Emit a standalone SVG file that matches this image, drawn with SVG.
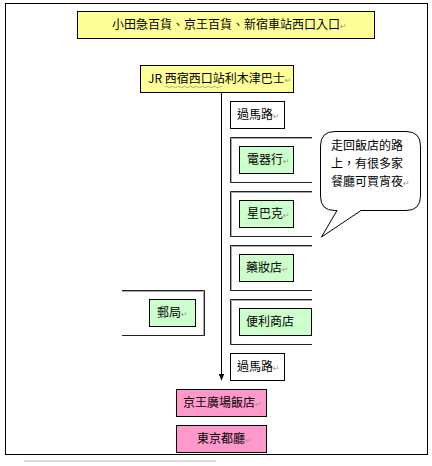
<svg xmlns="http://www.w3.org/2000/svg" width="432" height="466" viewBox="0 0 432 466">
<defs>
<style>
text{font-family:"Noto Sans CJK TC","Noto Sans CJK SC",sans-serif;font-size:12px;fill:#000}
.pm{font-family:"DejaVu Sans",sans-serif;font-size:8px;fill:#9a9a7a}
.y{fill:#ffff99;stroke:#000;stroke-width:1}
.w{fill:#fff;stroke:#000;stroke-width:1}
.g{fill:#ccffcc;stroke:#000;stroke-width:1}
.p{fill:#ff99cc;stroke:#000;stroke-width:1}
.br{fill:none;stroke:#222;stroke-width:1}
.sh{fill:none;stroke:#aaa;stroke-width:1}
</style>
<marker id="ah" viewBox="0 0 10 10" refX="9" refY="5" markerWidth="7" markerHeight="7" orient="auto"><path d="M0,1 L10,5 L0,9 z" fill="#000"/></marker>
</defs>
<rect x="0" y="0" width="432" height="466" fill="#fff"/>
<rect x="5.5" y="3.5" width="422" height="451" fill="none" stroke="#000" stroke-width="1"/>
<g id="connectors">
<line x1="221.5" y1="92" x2="221.5" y2="380" stroke="#000" stroke-width="1" marker-end="url(#ah)"/>
</g>
<g id="top"><rect class="y" x="77.5" y="11.5" width="297" height="27"/><text x="112" y="29">小田急百貨、京王百貨、新宿車站西口入口<tspan class="pm">↵</tspan></text></g>
<g id="jr"><rect class="y" x="140.5" y="65.5" width="153" height="27"/><text x="148" y="83">JR 西宿西口站利木津巴士<tspan class="pm">↵</tspan></text>
<path d="M165,87 q1.5,-1.5 3,0 t3,0 t3,0 t3,0 t3,0 t3,0 t3,0 t3,0 t3,0 t3,0 t3,0 t3,0 t3,0 t3,0 t3,0 t3,0 t3,0 t3,0 t3,0" fill="none" stroke="#6a6" stroke-width="0.8"/></g>
<g id="cross1"><rect class="w" x="230.5" y="101.5" width="54" height="27"/><text x="237" y="119">過馬路<tspan class="pm">↵</tspan></text></g>
<g id="shop1"><path class="sh" d="M312,138.5 H231.5 V182"/><path class="br" d="M312,137.5 H230.5 V182.5 H312"/><rect class="g" x="239.5" y="146.5" width="54" height="27"/><text x="247" y="164">電器行<tspan class="pm">↵</tspan></text></g>
<g id="shop2"><path class="sh" d="M312,192.5 H231.5 V236"/><path class="br" d="M312,191.5 H230.5 V236.5 H312"/><rect class="g" x="239.5" y="200.5" width="54" height="27"/><text x="247" y="218">星巴克<tspan class="pm">↵</tspan></text></g>
<g id="shop3"><path class="sh" d="M312,246.5 H231.5 V290"/><path class="br" d="M312,245.5 H230.5 V290.5 H312"/><rect class="g" x="239.5" y="254.5" width="54" height="27"/><text x="246" y="272">藥妝店<tspan class="pm">↵</tspan></text></g>
<g id="shop4"><path class="sh" d="M312,300.5 H231.5 V344"/><path class="br" d="M312,299.5 H230.5 V344.5 H312"/><rect class="g" x="239.5" y="308.5" width="72" height="27"/><text x="246" y="326">便利商店</text></g>
<g id="post"><path class="sh" d="M122,291.5 H203.5 V335"/><path class="br" d="M122,290.5 H204.5 V335.5 H122"/><rect class="g" x="149.5" y="299.5" width="46" height="27"/><text x="157" y="317">郵局<tspan class="pm">↵</tspan></text></g>
<g id="cross2"><rect class="w" x="230.5" y="353.5" width="54" height="27"/><text x="237" y="371">過馬路<tspan class="pm">↵</tspan></text></g>
<g id="hotel"><rect class="p" x="176.5" y="389.5" width="90" height="27"/><text x="183" y="407">京王廣場飯店<tspan class="pm">↵</tspan></text></g>
<g id="cityhall"><rect class="p" x="176.5" y="425.5" width="90" height="27"/><text x="197" y="443">東京都廳<tspan class="pm">↵</tspan></text></g>
<g id="callout"><path d="M335,131.5 H406 Q420.5,131.5 420.5,146 V196 Q420.5,210.5 406,210.5 H361 L321.5,237 L337,210.5 H334.5 Q320.5,210.5 320.5,196 V146 Q320.5,131.5 335,131.5 Z" fill="#fff" stroke="#000" stroke-width="1"/>
<text x="331" y="150">走回飯店的路</text><text x="331" y="168">上，有很多家</text><text x="331" y="186">餐廳可買宵夜<tspan class="pm">↵</tspan></text></g>
<line x1="24" y1="461" x2="216" y2="461" stroke="#bbb" stroke-width="1"/>
</svg>
